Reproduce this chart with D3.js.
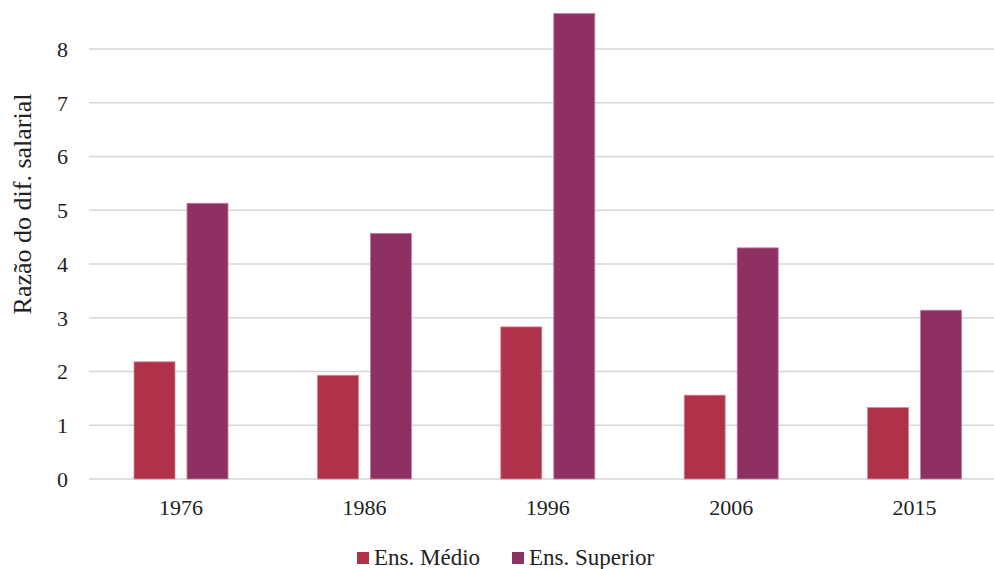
<!DOCTYPE html>
<html>
<head>
<meta charset="utf-8">
<script src="https://cdn.jsdelivr.net/npm/d3@7"></script>
<style>
  html, body { margin: 0; padding: 0; background: #fff; }
</style>
</head>
<body>
<svg id="chart" width="994" height="569"></svg>
<script>
// Wage-differential ratio by schooling level
const years = ["1976", "1986", "1996", "2006", "2015"];
const seriesNames = ["Ens. Médio", "Ens. Superior"];
const medio = [2.18, 1.93, 2.83, 1.56, 1.33];
const superior = [5.13, 4.57, 8.66, 4.30, 3.14];
const yTicks = [0, 1, 2, 3, 4, 5, 6, 7, 8];
const colors = ["#B0324A", "#8E3162"];

const FONT = "'Liberation Serif', 'Times New Roman', serif";
const svg = d3.select("#chart").attr("font-family", FONT);
const W = 994;

const y = d3.scaleLinear().domain([0, 8]).range([479, 49]);
const x = d3.scaleBand().domain(years).range([89.3, 1006.3]).padding(0);
const barW = 41, gap = 12;

// horizontal gridlines
svg.append("g").selectAll("line").data(yTicks).join("line")
  .attr("x1", 89).attr("x2", W)
  .attr("y1", d => y(d)).attr("y2", d => y(d))
  .attr("stroke", "#d6d6d6").attr("stroke-width", 1.6);

// y axis labels
const yAxis = d3.axisLeft(y).tickValues(yTicks).tickSize(0).tickPadding(0);
const gy = svg.append("g").attr("transform", "translate(68,0)").call(yAxis)
  .attr("font-family", FONT);
gy.select(".domain").remove();
gy.selectAll("text").attr("font-size", 22).attr("fill", "#222")
  .attr("dy", "0.34em");

// x axis labels
const xAxis = d3.axisBottom(x).tickSize(0).tickPadding(0);
const gx = svg.append("g").attr("transform", "translate(0,499)").call(xAxis)
  .attr("font-family", FONT);
gx.select(".domain").remove();
gx.selectAll("text").attr("font-size", 22).attr("fill", "#222")
  .attr("dy", "0.72em");

// bars
const rows = years.map((yr, i) => ({ year: yr, vals: [medio[i], superior[i]] }));
const groups = svg.append("g").selectAll("g").data(rows).join("g")
  .attr("transform", d => `translate(${x(d.year) + x.bandwidth() / 2},0)`);
groups.selectAll("rect").data(d => d.vals.map((v, k) => ({ v, k }))).join("rect")
  .attr("x", d => d.k === 0 ? -gap / 2 - barW : gap / 2)
  .attr("width", barW)
  .attr("y", d => y(d.v))
  .attr("height", d => y(0) - y(d.v))
  .attr("fill", d => colors[d.k])
  .attr("stroke", d => d.k === 0 ? "#d88a98" : "#c27fa2")
  .attr("stroke-width", 0.8);

// y axis title
svg.append("text")
  .attr("transform", "translate(31,204) rotate(-90)")
  .attr("text-anchor", "middle")
  .attr("font-family", FONT)
  .attr("font-size", 26).attr("fill", "#222")
  .text("Razão do dif. salarial");

// legend
const legendX = [357, 512];
const lg = svg.append("g").selectAll("g").data(seriesNames).join("g")
  .attr("transform", (d, i) => `translate(${legendX[i]},552)`);
lg.append("rect").attr("width", 12).attr("height", 12)
  .attr("fill", (d, i) => colors[i]);
lg.append("text").attr("x", 17).attr("y", 13)
  .attr("font-family", FONT)
  .attr("font-size", 23).attr("fill", "#222")
  .text(d => d);
</script>
</body>
</html>
